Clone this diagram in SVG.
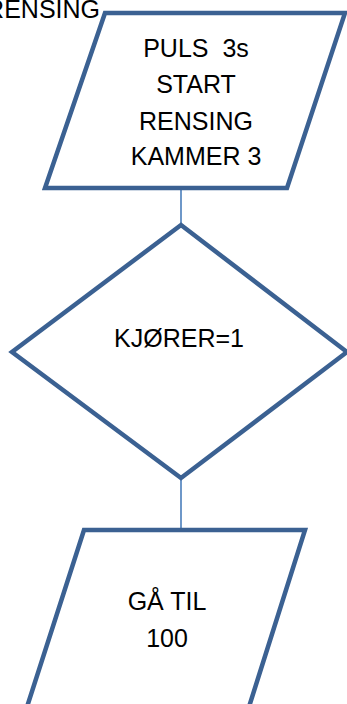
<svg xmlns="http://www.w3.org/2000/svg" width="347" height="704" viewBox="0 0 347 704">
<style>
.shape{fill:#fff;stroke:#3B6192;stroke-width:4.5;stroke-linejoin:miter}
.conn{stroke:#4A7EBB;stroke-width:1.6;fill:none}
text{font-family:"Liberation Sans",Arial,sans-serif;font-size:25px;fill:#000;text-anchor:middle}
</style>
<rect width="347" height="704" fill="#fff"/>
<g id="connectors">
<line class="conn" x1="181" y1="188" x2="181" y2="225"/>
<line class="conn" x1="181" y1="478" x2="181" y2="530"/>
</g>
<g id="node-top">
<polygon class="shape" points="105,13 345,13 287,188 45,188"/>
<text x="196" y="57" xml:space="preserve">PULS&#160; 3s</text>
<text x="196" y="93">START</text>
<text x="196" y="130">RENSING</text>
<text x="196" y="165">KAMMER 3</text>
</g>
<g id="node-diamond">
<polygon class="shape" points="181,225 347,352 181,478 12,352"/>
<text x="179" y="347">KJØRER=1</text>
</g>
<g id="node-bottom">
<polygon class="shape" points="84,530 305,530 248,710 26,710"/>
<text x="167" y="610">GÅ TIL</text>
<text x="167" y="647">100</text>
</g>
<text x="100" y="18" style="text-anchor:end">RENSING</text>
</svg>
